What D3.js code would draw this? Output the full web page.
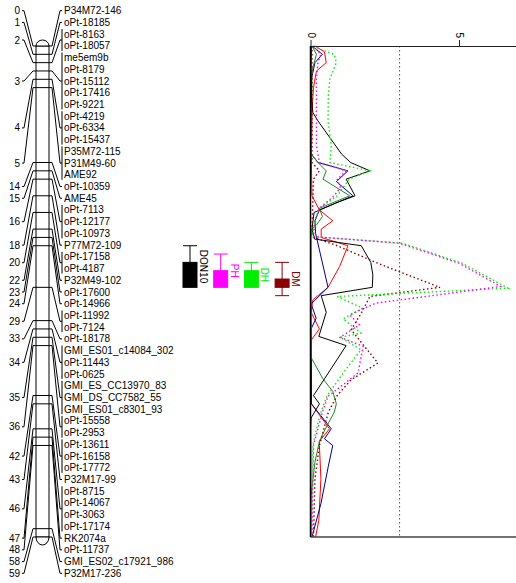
<!DOCTYPE html>
<html>
<head>
<meta charset="utf-8">
<script src="https://cdn.jsdelivr.net/npm/d3@7"></script>
<style>
  body { margin: 0; background: #fff; }
  svg { display: block; }
  text { font-family: "Liberation Sans", Arial, Helvetica, sans-serif; }
</style>
</head>
<body>
<svg id="chart" width="516" height="583"></svg>
<script>
// Linkage group: marker names and their map positions (cM)
const markerNames = [
  "P34M72-146", "oPt-18185", "oPt-8163", "oPt-18057", "me5em9b", "oPt-8179",
  "oPt-15112", "oPt-17416", "oPt-9221", "oPt-4219", "oPt-6334", "oPt-15437",
  "P35M72-115", "P31M49-60", "AME92", "oPt-10359", "AME45", "oPt-7113",
  "oPt-12177", "oPt-10973", "P77M72-109", "oPt-17158", "oPt-4187", "P32M49-102",
  "oPt-17600", "oPt-14966", "oPt-11992", "oPt-7124", "oPt-18178",
  "GMI_ES01_c14084_302", "oPt-11443", "oPt-0625", "GMI_ES_CC13970_83",
  "GMI_DS_CC7582_55", "GMI_ES01_c8301_93", "oPt-15558", "oPt-2953", "oPt-13611",
  "oPt-16158", "oPt-17772", "P32M17-99", "oPt-8715", "oPt-14067", "oPt-3063",
  "oPt-17174", "RK2074a", "oPt-11737", "GMI_ES02_c17921_986", "P32M17-236"
];
const markerPos = [
  0, 1, 2, 2, 3, 3,
  3, 3, 3, 4, 4, 4,
  5, 5, 5, 14, 15, 16,
  16, 16, 18, 20, 20, 22,
  23, 24, 29, 29, 33,
  34, 34, 34, 35,
  35, 35, 36, 36, 42,
  42, 42, 43, 46, 46, 46,
  46, 47, 48, 58, 59
];

// QTL intervals (cM): outer start, inner start, inner end, outer end
const qtlNames  = ["DON10", "PH", "DH", "DM"];
const qtlColors = ["#000000", "#ff00ff", "#00ee00", "#8b0000"];
const qtlSo = [24, 25, 26, 26];
const qtlSi = [26, 27, 27, 28];
const qtlEi = [29, 29, 29, 29];
const qtlEo = [29, 29, 29, 30];

// LOD profiles along the group: [cM, LOD]
const lodDON10 = [[0,0.03],[3,0.02],[6,0.03],[8,0.08],[9,0.25],[11,0.65],[13,1.05],[14,1.35],[15,2.0],[16,1.2],[18,1.5],[18.8,0.9],[20,0.12],[22,0.05],[23.2,0.14],[24,1.71],[26,2.03],[27.5,2.1],[29,2.08],[30,0.36],[32,0.53],[34.9,0.28],[36,1.2],[40,0.47],[42,0.1],[43,0.3],[44.7,0.02],[46,0.01],[59,0.01]];
const lodRed   = [[0,0.15],[0.7,0.47],[2,0.53],[3,0.2],[5,0.1],[8,0.05],[14,0.03],[18,0.05],[19.7,0.3],[21,0.75],[22,0.36],[23,0.36],[24,1.26],[26.5,0.98],[29,0.59],[30.5,0.08],[32,0.02],[34,0.3],[35.3,0.03],[43,0.03],[46,0.64],[47.5,0.3],[48,0.3],[52,0.35],[57,0.28],[59,0.17]];
const lodBlue  = [[0,0.05],[1,0.4],[2,0.15],[4,0.03],[13,0.03],[14,0.25],[15,1.26],[16.3,0.87],[18,1.43],[19.7,0.3],[21,0.15],[22.5,0.17],[24.5,0.3],[29,0.59],[31,0.02],[32.7,0.19],[34,0.02],[43,0.03],[46,0.7],[47.2,0.47],[48,0.75],[50.5,0.6],[55,0.35],[59,0.05]];
const lodGreen = [[0,0.05],[1,0.2],[3,0.05],[13,0.03],[14,0.25],[15,0.53],[16,0.42],[18,1.32],[19.5,0.3],[20.5,0.4],[21.5,0.2],[22,0.05],[23,0.02],[37.5,0.03],[40,0.42],[41.5,0.75],[43,0.87],[44,0.8],[46,0.5],[47.5,0.3],[50,0.15],[54,0.02],[59,0.01]];
const lodPH    = [[0,0.1],[1,0.35],[2,0.25],[4,0.2],[8,0.2],[12,0.2],[14,0.3],[15,1.2],[16,0.9],[17,1.0],[18,0.8],[19.5,0.3],[21,0.15],[22.9,0.1],[23.7,3.0],[26.1,5.0],[28.9,6.4],[30.9,2.2],[32.3,1.32],[33.5,1.65],[35,1.0],[36.1,1.77],[39.3,1.6],[42.1,0.59],[44,0.4],[46,0.25],[48,0.1],[59,0.05]];
const lodDH    = [[0,0.1],[0.5,0.4],[1,0.8],[2,0.87],[4,0.65],[6,0.6],[9,0.59],[12,0.7],[14,0.65],[15,2.0],[16,1.3],[18,0.9],[19.5,0.3],[21,0.15],[22.9,0.05],[23.7,3.1],[26.1,5.1],[29.1,6.65],[30.1,0.9],[31.5,1.75],[32.8,1.1],[34.5,1.7],[35,1.0],[36.5,1.7],[39.3,1.1],[42.1,0.55],[44,0.35],[46,0.2],[48,0.08],[59,0.03]];
const lodDM    = [[0,0.05],[14,0.05],[15,0.3],[16,0.1],[22,0.05],[23,0.1],[24,0.9],[26,2.2],[27,2.9],[29,4.36],[30.1,2.0],[32.1,1.71],[34.1,1.37],[38.1,2.27],[40.1,1.37],[42,0.9],[44,0.6],[48,0.3],[52,0.15],[59,0.1]];

const lodTicks = [0, 5];
const lodThreshold = 3;

const profiles = [
  { data: lodRed,   color: "#ff0000", dash: null },
  { data: lodBlue,  color: "#00008b", dash: null },
  { data: lodGreen, color: "#1a8a1a", dash: null },
  { data: lodDON10, color: "#000000", dash: null },
  { data: lodDM,    color: "#8b0000", dash: "1.5,2.5" },
  { data: lodDH,    color: "#00ee00", dash: "1.5,2.5" },
  { data: lodPH,    color: "#ff00ff", dash: "1.5,2.5" }
];

const svg = d3.select("#chart");
const FS = 10;

// scales
const yCM  = d3.scaleLinear().domain([0, 59]).range([46, 537]);
const yLab = d3.scaleLinear().domain([0, markerNames.length - 1]).range([10.7, 573.3]);
const xLod = d3.scaleLinear().domain([0, 7]).range([310.5, 518.4]);

const barL = 36, barR = 49;

// group markers sharing a position
const groups = [];
markerPos.forEach((p, i) => {
  let g = groups[groups.length - 1];
  if (!g || g.pos !== p) { g = { pos: p, idx: [] }; groups.push(g); }
  g.idx.push(i);
});
groups.forEach(g => {
  g.y0 = yLab(g.idx[0]);
  g.y1 = yLab(g.idx[g.idx.length - 1]);
  g.ly = (g.y0 + g.y1) / 2;
});

// chromosome body
const chrom = svg.append("g").attr("fill", "none").attr("stroke", "#000").attr("stroke-width", 1);
chrom.append("rect")
  .attr("x", barL).attr("y", yCM(0))
  .attr("width", barR - barL).attr("height", yCM(59) - yCM(0))
  .attr("fill", "#fff");
chrom.append("path")
  .attr("d", `M${barL},${yCM(0)} A${(barR - barL) / 2},6 0 0 1 ${barR},${yCM(0)}`)
  .attr("fill", "#fff");
chrom.append("path")
  .attr("d", `M${barL},${yCM(59)} A${(barR - barL) / 2},8 0 0 0 ${barR},${yCM(59)}`)
  .attr("fill", "#fff");
chrom.selectAll("line.band").data(groups).join("line")
  .attr("class", "band")
  .attr("x1", barL).attr("x2", barR)
  .attr("y1", d => yCM(d.pos)).attr("y2", d => yCM(d.pos));

// position labels and connectors (left)
const left = svg.append("g");
left.selectAll("path").data(groups).join("path")
  .attr("fill", "none").attr("stroke", "#000").attr("stroke-width", 1)
  .attr("d", d => `M22,${d.ly} H24 L${barL - 3},${yCM(d.pos)} H${barL}`);
left.selectAll("text").data(groups).join("text")
  .attr("x", 20).attr("y", d => d.ly).attr("dy", "0.35em")
  .attr("text-anchor", "end").attr("font-size", FS)
  .text(d => d.pos);

// marker labels and connectors (right)
const right = svg.append("g");
right.selectAll("path").data(groups).join("path")
  .attr("fill", "none").attr("stroke", "#000").attr("stroke-width", 1)
  .attr("d", d => `M${barR},${yCM(d.pos)} H${barR + 3} L60,${d.ly} H62`);
right.selectAll("line").data(groups.filter(g => g.idx.length > 1)).join("line")
  .attr("stroke", "#000").attr("stroke-width", 1)
  .attr("x1", 62).attr("x2", 62)
  .attr("y1", d => d.y0 - 5).attr("y2", d => d.y1 + 5);
right.selectAll("text").data(markerNames).join("text")
  .attr("x", 64).attr("y", (d, i) => yLab(i)).attr("dy", "0.35em")
  .attr("font-size", FS)
  .text(d => d);

// QTL intervals
const qx = i => 190 + i * 30.7;
const qw = 14;
const qtl = svg.append("g");
qtlNames.forEach((name, i) => {
  const g = qtl.append("g").attr("stroke", qtlColors[i]).attr("fill", qtlColors[i]);
  const cx = qx(i);
  g.append("line").attr("x1", cx).attr("x2", cx)
    .attr("y1", yCM(qtlSo[i])).attr("y2", yCM(qtlEo[i]));
  g.append("line").attr("x1", cx - qw / 2).attr("x2", cx + qw / 2)
    .attr("y1", yCM(qtlSo[i])).attr("y2", yCM(qtlSo[i]));
  if (qtlEo[i] > qtlEi[i]) {
    g.append("line").attr("x1", cx - qw / 2).attr("x2", cx + qw / 2)
      .attr("y1", yCM(qtlEo[i])).attr("y2", yCM(qtlEo[i]));
  }
  g.append("rect")
    .attr("x", cx - qw / 2).attr("width", qw)
    .attr("y", yCM(qtlSi[i])).attr("height", yCM(qtlEi[i]) - yCM(qtlSi[i]));
  const my = (yCM(qtlSo[i]) + yCM(qtlEo[i])) / 2;
  qtl.append("text")
    .attr("transform", `translate(${cx + qw / 2 + 3},${my}) rotate(90)`)
    .attr("text-anchor", "middle")
    .attr("font-size", FS)
    .attr("fill", qtlColors[i])
    .text(name);
});

// LOD panel
const panel = svg.append("g");
panel.append("line")
  .attr("x1", xLod(lodThreshold)).attr("x2", xLod(lodThreshold))
  .attr("y1", yCM(0)).attr("y2", yCM(59))
  .attr("stroke", "#555").attr("stroke-width", 1).attr("stroke-dasharray", "1.5,2.5");

const line = d3.line().x(d => xLod(d[1])).y(d => yCM(d[0]));
panel.selectAll("path.lod").data(profiles).join("path")
  .attr("class", "lod")
  .attr("fill", "none")
  .attr("stroke", d => d.color)
  .attr("stroke-width", d => d.dash ? 1.4 : 1)
  .attr("stroke-dasharray", d => d.dash)
  .attr("d", d => line(d.data));

const axis = d3.axisTop(xLod).tickValues(lodTicks).tickSize(6).tickSizeOuter(0).tickFormat(d3.format("d"));
const ag = panel.append("g").attr("transform", `translate(0,${yCM(0)})`).call(axis);
ag.select(".domain").attr("stroke", "#222");
ag.selectAll(".tick line").attr("stroke", "#222");
ag.selectAll(".tick text")
  .attr("font-size", FS).attr("font-family", null)
  .attr("fill", "#000")
  .attr("x", -8).attr("y", 0).attr("dy", "0.35em")
  .attr("text-anchor", "end")
  .attr("transform", "rotate(90)");

panel.append("line")
  .attr("x1", xLod(0)).attr("x2", 516)
  .attr("y1", yCM(59)).attr("y2", yCM(59))
  .attr("stroke", "#444").attr("stroke-width", 1.5);
panel.append("line")
  .attr("x1", xLod(0)).attr("x2", xLod(0))
  .attr("y1", yCM(0)).attr("y2", yCM(59))
  .attr("stroke", "#000").attr("stroke-width", 1.5);
</script>
</body>
</html>
